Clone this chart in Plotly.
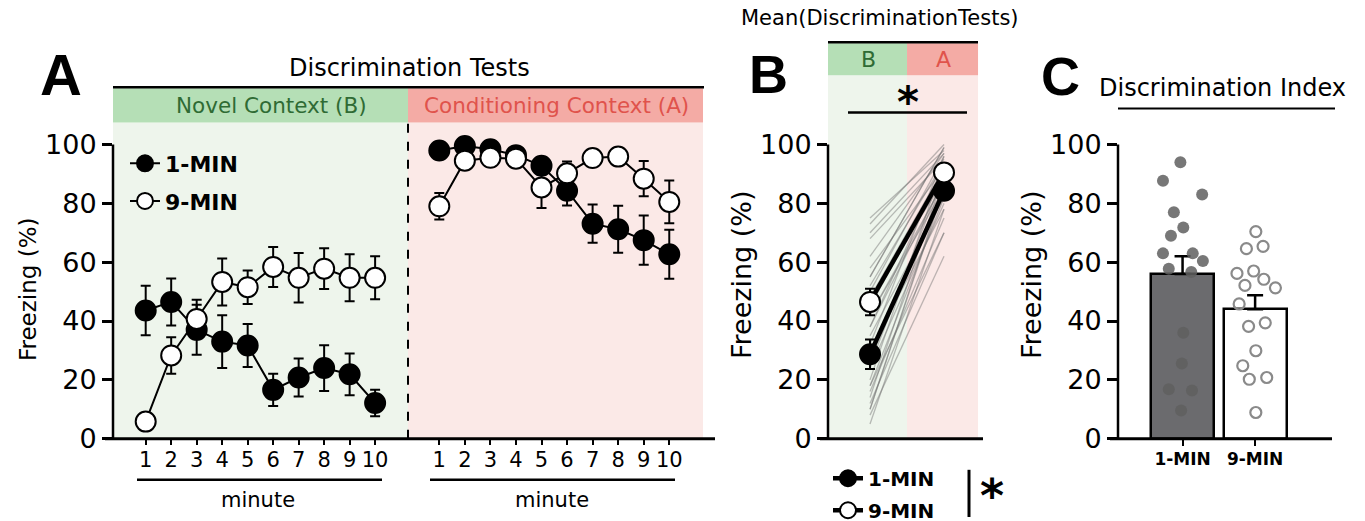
import plotly.graph_objects as go

W, H = 1365, 521          # reference picture size (layout coordinates below are in these pixels)
FIG_H = 538               # rendered height (viewport is slightly taller than the photographed picture)


def px(x):
    return x / W


def py(y):
    return 1 - y / H


FONT = "DejaVu Sans"

# ---------------- data ----------------
minutes = list(range(1, 11))
minute_labels = [str(m) for m in minutes]

# Panel A - Novel context (B)
novel_1min = [43.6, 46.5, 37.0, 33.0, 31.7, 16.6, 20.8, 24.0, 21.9, 12.1]
novel_1min_sem = [8.4, 8.0, 8.5, 9.0, 7.3, 5.5, 6.5, 7.8, 7.1, 4.5]
novel_9min = [5.8, 28.3, 40.7, 53.3, 51.5, 58.4, 54.7, 57.8, 54.7, 54.7]
novel_9min_sem = [1.0, 6.2, 6.5, 8.0, 5.7, 6.8, 8.4, 6.9, 8.0, 7.3]

# Panel A - Conditioning context (A)
cond_1min = [98.0, 99.5, 98.4, 96.4, 92.8, 84.3, 73.1, 71.2, 67.5, 62.7]
cond_1min_sem = [2.0, 1.5, 1.5, 2.0, 3.0, 5.0, 6.5, 8.0, 8.4, 8.3]
cond_9min = [79.0, 94.5, 95.5, 95.2, 85.4, 90.2, 95.4, 95.9, 88.4, 80.5]
cond_9min_sem = [4.5, 2.5, 2.0, 2.0, 7.0, 4.0, 2.0, 2.0, 6.0, 7.3]

# Panel B - mean of discrimination tests
contexts = ["B", "A"]
mean_1min = [28.7, 84.3]
mean_1min_sem = [5.0, 2.5]
mean_9min = [46.5, 90.5]
mean_9min_sem = [4.5, 2.0]

subj_1min_B = [5, 8, 10, 12, 14, 16, 18, 20, 24, 28, 32, 38, 42, 48, 55, 70]
subj_1min_A = [78, 62, 86, 70, 90, 75, 82, 94, 80, 84, 96, 88, 85, 92, 99, 97]
subj_9min_B = [10, 18, 25, 30, 35, 38, 42, 45, 48, 50, 52, 55, 58, 62, 68, 73, 75]
subj_9min_A = [85, 70, 90, 78, 82, 93, 87, 91, 88, 96, 94, 99, 92, 97, 95, 100, 98]

# Panel C - discrimination index
groups = ["1-MIN", "9-MIN"]
di_mean = [56.0, 44.0]
di_sem = [6.0, 4.8]
di_1min = [94, 87.7, 83, 77, 71.8, 69, 63, 63, 60.4, 57.8, 56.7, 36, 25.6, 16.8, 16.4, 9.6]
di_1min_jit = [-0.03, -0.27, 0.27, -0.12, 0.01, -0.16, -0.27, 0.14, 0.28, -0.19, 0.12, 0.01, -0.01, -0.19, 0.13, -0.02]
di_9min = [70.4, 64.6, 65.4, 56.2, 57.0, 52.1, 54.2, 51.3, 45.8, 38.2, 39.4, 29.9, 24.8, 20.2, 20.8, 8.9]
di_9min_jit = [0.01, -0.12, 0.11, -0.25, -0.02, -0.14, 0.12, 0.28, -0.22, -0.09, 0.14, 0.01, -0.17, -0.08, 0.16, 0.01]

# ---------------- style ----------------
GREEN_BG = "#eef5ec"
PINK_BG = "#fbe9e7"
GREEN_BAND = "#b5dfb6"
PINK_BAND = "#f4aba5"
GREEN_TXT = "#2f6b34"
RED_TXT = "#e0534c"


def err(arr, minus=None, w=5, t=2):
    d = dict(type="data", array=arr, color="black", thickness=t, width=w)
    if minus is not None:
        d["arrayminus"] = minus
    return d


def marker(fill):
    return dict(size=20, color=fill, line=dict(color="black", width=2))


fig = go.Figure()

# Panel A traces
fig.add_trace(go.Scatter(x=minutes, y=novel_1min, error_y=err(novel_1min_sem), mode="lines+markers",
                         line=dict(color="black", width=2), marker=marker("black"), name="1-MIN",
                         legendgroup="a1", legend="legend", cliponaxis=False, xaxis="x", yaxis="y"))
fig.add_trace(go.Scatter(x=minutes, y=novel_9min, error_y=err(novel_9min_sem), mode="lines+markers",
                         line=dict(color="black", width=2), marker=marker("white"), name="9-MIN",
                         legendgroup="a9", legend="legend", cliponaxis=False, xaxis="x", yaxis="y"))
fig.add_trace(go.Scatter(x=minutes, y=cond_1min, error_y=err(cond_1min_sem), mode="lines+markers",
                         line=dict(color="black", width=2), marker=marker("black"), showlegend=False,
                         cliponaxis=False, xaxis="x2", yaxis="y"))
fig.add_trace(go.Scatter(x=minutes, y=cond_9min, error_y=err(cond_9min_sem), mode="lines+markers",
                         line=dict(color="black", width=2), marker=marker("white"), showlegend=False,
                         cliponaxis=False, xaxis="x2", yaxis="y"))

# Panel B individual subjects
gx, gy = [], []
for b, a in list(zip(subj_1min_B, subj_1min_A)) + list(zip(subj_9min_B, subj_9min_A)):
    gx += [0, 1, None]
    gy += [b, a, None]
fig.add_trace(go.Scatter(x=gx, y=gy, mode="lines", line=dict(color="rgba(110,110,110,0.45)", width=1.3),
                         showlegend=False, hoverinfo="skip", xaxis="x3", yaxis="y3"))
fig.add_trace(go.Scatter(x=[0, 1], y=mean_1min, error_y=err(mean_1min_sem), mode="lines+markers",
                         line=dict(color="black", width=4.5), marker=marker("black"), name="1-MIN",
                         legendgroup="b1", legend="legend2", cliponaxis=False, xaxis="x3", yaxis="y3"))
fig.add_trace(go.Scatter(x=[0, 1], y=mean_9min, error_y=err(mean_9min_sem), mode="lines+markers",
                         line=dict(color="black", width=4.5), marker=marker("white"), name="9-MIN",
                         legendgroup="b9", legend="legend2", cliponaxis=False, xaxis="x3", yaxis="y3"))

# Panel C bars + dots
fig.add_trace(go.Bar(x=[0, 1], y=di_mean, width=0.87,
                     marker=dict(color=["#6b6b6e", "white"], line=dict(color="black", width=2.5)),
                     error_y=err(di_sem, minus=[0, 0], w=8, t=2.5), showlegend=False,
                     xaxis="x4", yaxis="y4"))
fig.add_trace(go.Scatter(x=[0 + j for j in di_1min_jit], y=di_1min, mode="markers",
                         marker=dict(size=12, color="rgba(95,95,95,0.85)"), showlegend=False,
                         cliponaxis=False, xaxis="x4", yaxis="y4"))
fig.add_trace(go.Scatter(x=[1 + j for j in di_9min_jit], y=di_9min, mode="markers",
                         marker=dict(size=11, symbol="circle-open", color="#8a8a8a", line=dict(width=2.2)),
                         showlegend=False, cliponaxis=False, xaxis="x4", yaxis="y4"))

# ---------------- axes ----------------
Y0, YPX = 437, 2.93
YTOP = 107
ydom = [py(Y0), py(Y0 - YTOP * YPX)]
yax = dict(domain=ydom, range=[0, YTOP], showline=False, showgrid=False, zeroline=False,
           ticks="outside", ticklen=10, tickwidth=2.5, tickcolor="black",
           tickvals=[0, 20, 40, 60, 80, 100], tickfont=dict(family=FONT, size=27, color="black"))

xa_common = dict(showline=False, showgrid=False, zeroline=False, ticks="outside", ticklen=5,
                 tickwidth=2, tickcolor="black", tickvals=minutes, ticktext=minute_labels,
                 tickfont=dict(family=FONT, size=21, color="black"), ticklabelstandoff=-3)

fig.update_layout(
    width=W, height=FIG_H, margin=dict(l=0, r=0, t=0, b=0),
    paper_bgcolor="white", plot_bgcolor="rgba(0,0,0,0)",
    font=dict(family=FONT, color="black"),
    bargap=0,
    xaxis=dict(domain=[px(113), px(408)], range=[-0.283, 11.29], anchor="y", **xa_common),
    xaxis2=dict(domain=[px(408), px(703)], range=[-0.225, 11.32], anchor="y", **xa_common),
    yaxis=dict(anchor="x", **yax),
    xaxis3=dict(domain=[px(828), px(983)], range=[-0.568, 1.527], anchor="y3", showline=False,
                showgrid=False, zeroline=False, showticklabels=False, ticks=""),
    yaxis3=dict(anchor="x3", **yax),
    xaxis4=dict(domain=[px(1118), px(1332)], range=[-0.89, 2.06], anchor="y4", showline=False,
                showgrid=False, zeroline=False, ticks="outside", ticklen=6, tickwidth=2, tickcolor="black",
                tickvals=[0, 1], ticktext=groups, ticklabelstandoff=-1,
                tickfont=dict(family=FONT, size=17, color="black", weight="bold")),
    yaxis4=dict(anchor="x4", **yax),
    legend=dict(x=px(125), y=py(142), xanchor="left", yanchor="top", bgcolor="rgba(0,0,0,0)",
                font=dict(family=FONT, size=22, color="black", weight="bold"),
                traceorder="grouped", tracegroupgap=6, itemwidth=30),
    legend2=dict(x=px(828), y=py(457), xanchor="left", yanchor="top", bgcolor="rgba(0,0,0,0)",
                 font=dict(family=FONT, size=20, color="black", weight="bold"),
                 traceorder="grouped", tracegroupgap=3, itemwidth=30),
)

# ---------------- shapes ----------------
shapes = []


def rect(xref, x0, x1, y0, y1, color):
    shapes.append(dict(type="rect", xref=xref, yref="paper", x0=x0, x1=x1, y0=py(y0), y1=py(y1),
                       fillcolor=color, line=dict(width=0), layer="below"))


def pline(x0, x1, y0, y1, width=2.5, dash="solid", layer="above"):
    shapes.append(dict(type="line", xref="paper", yref="paper", x0=px(x0), x1=px(x1), y0=py(y0),
                       y1=py(y1), line=dict(color="black", width=width, dash=dash), layer=layer))


# Panel A backgrounds and header bands
rect("x domain", 0, 1, 437, 122, GREEN_BG)
rect("x2 domain", 0, 1, 437, 122, PINK_BG)
rect("x domain", 0, 1, 122, 88, GREEN_BAND)
rect("x2 domain", 0, 1, 122, 88, PINK_BAND)
pline(113, 704, 87, 87)
shapes.append(dict(type="line", xref="x domain", yref="paper", x0=1, x1=1, y0=py(437), y1=py(123),
                   line=dict(color="black", width=2, dash="dash"), layer="below"))
pline(105, 715, 437, 437, width=3)
pline(137, 382, 478, 478)
pline(430, 675, 478, 478)

# Panel B backgrounds and header
rect("x3", -0.568, 0.5, 437, 75, GREEN_BG)
rect("x3", 0.5, 1.46, 437, 75, PINK_BG)
rect("x3", -0.568, 0.5, 75, 43, GREEN_BAND)
rect("x3", 0.5, 1.46, 75, 43, PINK_BAND)
pline(828, 978, 42, 42)
pline(848, 967, 112, 112)
pline(820, 983, 437, 437, width=3)
pline(969, 969, 468, 515, width=3)

# Panel C
pline(1118, 1335, 108, 108, width=2)
pline(1110, 1332, 437, 437, width=3)

# y-axis lines (0..100)
for xr, yr in [("x domain", "y"), ("x3 domain", "y3"), ("x4 domain", "y4")]:
    shapes.append(dict(type="line", xref=xr, yref=yr, x0=0, x1=0, y0=0, y1=100,
                       line=dict(color="black", width=2.5), layer="above"))

fig.update_layout(shapes=shapes)

# ---------------- annotations ----------------
ann = []


def text(x, y, s, size, color="black", bold=False, angle=0, family=FONT):
    ann.append(dict(x=px(x), y=py(y), xref="paper", yref="paper", text=s, showarrow=False,
                    xanchor="center", yanchor="middle", textangle=angle,
                    font=dict(family=family, size=size, color=color, weight="bold" if bold else "normal")))


text(61, 74, "A", 58, bold=True, family="Liberation Sans")
text(768, 74, "B", 54, bold=True, family="Liberation Sans")
text(1060, 76, "C", 54, bold=True, family="Liberation Sans")

text(409, 68, "Discrimination Tests", 24)
text(271, 105, "Novel Context (B)", 21.5, color=GREEN_TXT)
text(556, 105, "Conditioning Context (A)", 21.5, color=RED_TXT)
text(258, 498, "minute", 21)
text(552, 498, "minute", 21)
text(28, 288, "Freezing (%)", 23, angle=-90)

text(880, 18, "Mean(DiscriminationTests)", 21)
text(868, 59, "B", 22, color=GREEN_TXT)
text(943, 59, "A", 22, color=RED_TXT)
text(908, 102, "*", 42, bold=True)
text(741, 274, "Freezing (%)", 27, angle=-90)
text(992, 494, "*", 46, bold=True)

text(1222, 88, "Discrimination Index", 24)
text(1031, 274, "Freezing (%)", 27, angle=-90)

fig.update_layout(annotations=ann)

fig.write_html(
    "out.html",
    config={"displayModeBar": False},
    post_script="document.body.style.margin='0';document.body.style.overflow='hidden';"
                "document.documentElement.style.overflow='hidden';",
)
